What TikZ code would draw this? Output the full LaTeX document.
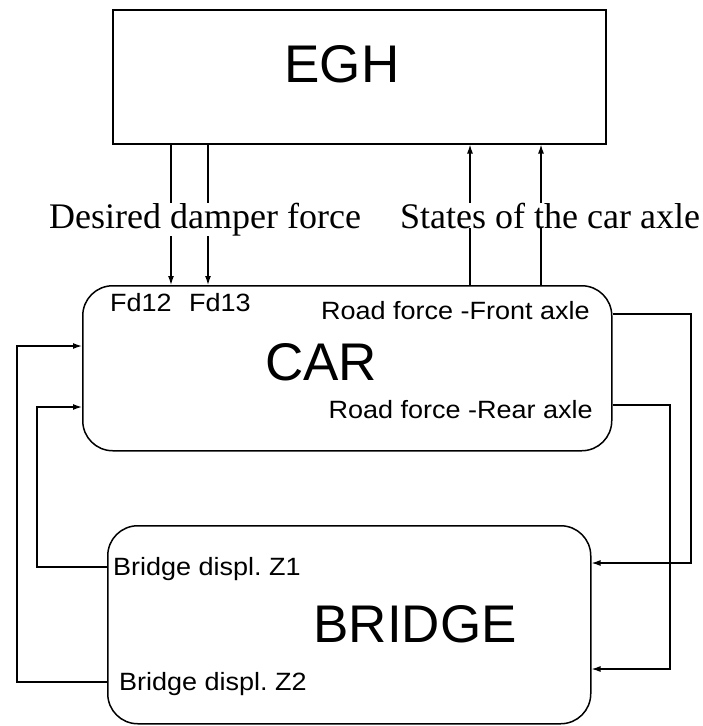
\documentclass[tikz,border=0pt]{standalone}
\usepackage{fontspec}
\setmainfont{Liberation Sans}
\newfontfamily\serfont{Liberation Serif}
\usetikzlibrary{arrows.meta,calc}
\frenchspacing
\newcommand{\lbl}[1]{\scalebox{1.08}[1]{#1}}
\begin{document}
\begin{tikzpicture}[x=1pt,y=-1pt,
 box/.style={draw, line width=1.5pt, inner sep=0},
 conn/.style={line width=1.3pt},
 arr/.style={conn,-{Latex[length=9pt,width=6pt]}},
 big/.style={font=\fontsize{53}{60}\selectfont, inner sep=0},
 lab/.style={font=\fontsize{25}{28}\selectfont\frenchspacing, inner sep=0},
 ser/.style={font=\serfont\fontsize{36}{40}\selectfont, inner sep=0, fill=white}]
\useasboundingbox (0,0) rectangle (702,726);
% boxes
\node[box, minimum width=493pt, minimum height=134pt, anchor=north west] (egh) at (112,9) {};
\node[box, rounded corners=30pt, minimum width=529pt, minimum height=165pt, anchor=north west] (car) at (82,285) {};
\node[box, rounded corners=30pt, minimum width=483pt, minimum height=198pt, anchor=north west] (bridge) at (107,525) {};
% titles
\node[big, anchor=base] (tegh) at (342,82) {EGH};
\node[big, anchor=base] (tcar) at (321,380) {CAR};
\node[big, anchor=base] (tbr) at (415,642) {BRIDGE};
% port labels
\node[lab, anchor=base west] (fd12) at (110,311) {\lbl{Fd12}};
\node[lab, anchor=base west] (fd13) at (189,311) {\lbl{Fd13}};
\node[lab, anchor=base east] (rff) at (590,319) {\lbl{Road force -Front axle}};
\node[lab, anchor=base east] (rfr) at (593,418) {\lbl{Road force -Rear axle}};
\node[lab, anchor=base west] (z1) at (113,575) {\lbl{Bridge displ. Z1}};
\node[lab, anchor=base west] (z2) at (119,690) {\lbl{Bridge displ. Z2}};
% coordinates
\coordinate (d1) at (171,0);
\coordinate (d2) at (208,0);
\coordinate (s1) at (470,0);
\coordinate (s2) at (541,0);
\coordinate (fa1) at (691,314);
\coordinate (fa2) at (691,563);
\coordinate (ra1) at (670,405);
\coordinate (ra2) at (670,669);
\coordinate (za1) at (37,567);
\coordinate (za2) at (37,407);
\coordinate (zb1) at (17,682);
\coordinate (zb2) at (17,346);
% connectors
\draw[arr] (egh.south -| d1) -- (car.north -| d1);
\draw[arr] (egh.south -| d2) -- (car.north -| d2);
\draw[arr] (car.north -| s1) -- (egh.south -| s1);
\draw[arr] (car.north -| s2) -- (egh.south -| s2);
\draw[arr] (car.east |- fa1) -- (fa1) -- (fa2) -- (bridge.east |- fa2);
\draw[arr] (car.east |- ra1) -- (ra1) -- (ra2) -- (bridge.east |- ra2);
\draw[arr] (bridge.west |- za1) -- (za1) -- (za2) -- (car.west |- za2);
\draw[arr] (bridge.west |- zb1) -- (zb1) -- (zb2) -- (car.west |- zb2);
% signal group labels
\node[ser, anchor=base west] (des) at (49,228) {Desired damper force};
\node[ser, anchor=base west] (sta) at (400,228) {States of the car axle};
\end{tikzpicture}
\end{document}
